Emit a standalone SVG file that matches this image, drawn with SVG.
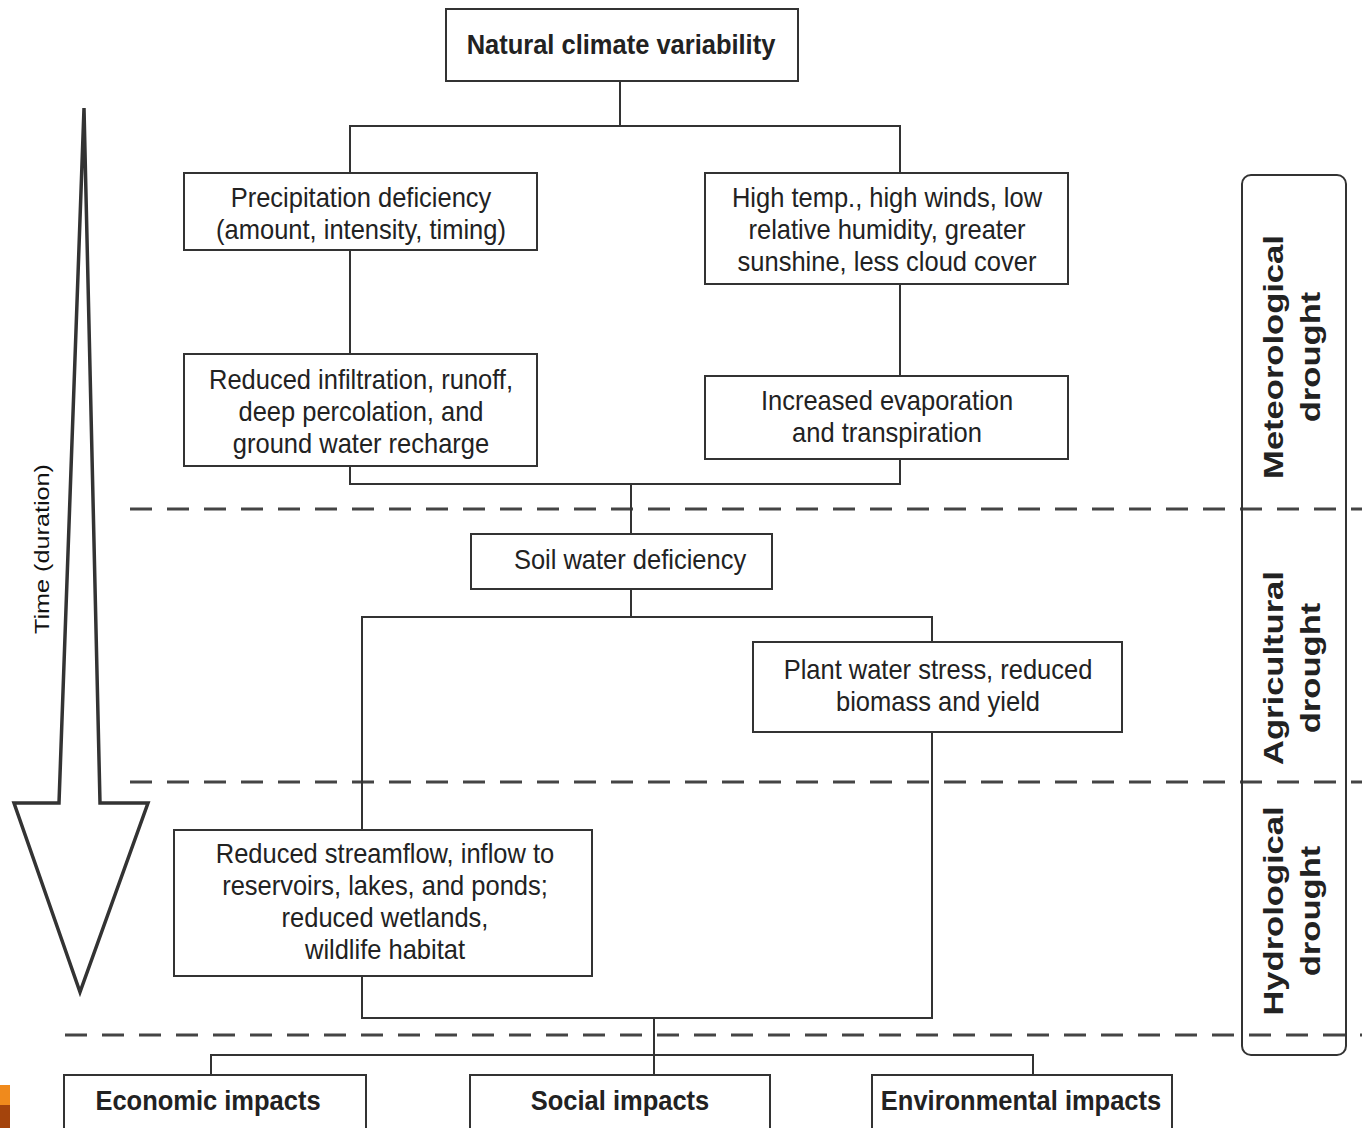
<svg xmlns="http://www.w3.org/2000/svg" width="1362" height="1128" viewBox="0 0 1362 1128">
<style>
.box{fill:#fff;stroke:#333;stroke-width:2}
.t{font-family:"Liberation Sans",Arial,sans-serif;font-size:25.5px;fill:#222;text-anchor:middle}
.b{font-weight:bold}
.v{font-family:"Liberation Sans",Arial,sans-serif;font-size:27px;font-weight:bold;fill:#222;text-anchor:middle}
.conn{stroke:#333;stroke-width:2;fill:none}
.dash{stroke:#444;stroke-width:3;fill:none;stroke-dasharray:22 15}
</style>
<rect width="1362" height="1128" fill="#fff"/>
<g id="bands">
<line class="dash" x1="130" y1="509" x2="1362" y2="509"/>
<line class="dash" x1="130" y1="782" x2="1362" y2="782"/>
<line class="dash" x1="65" y1="1035" x2="1362" y2="1035"/>
<rect x="1242" y="175" width="104" height="880" rx="9" fill="none" stroke="#333" stroke-width="2"/>
<text class="v" transform="matrix(0,-1.28,1,0,1283,357)">Meteorological</text>
<text class="v" transform="matrix(0,-1.28,1,0,1320,357)">drought</text>
<text class="v" transform="matrix(0,-1.28,1,0,1283,668)">Agricultural</text>
<text class="v" transform="matrix(0,-1.28,1,0,1320,668)">drought</text>
<text class="v" transform="matrix(0,-1.28,1,0,1283,911)">Hydrological</text>
<text class="v" transform="matrix(0,-1.28,1,0,1320,911)">drought</text>
</g>
<g id="time-arrow">
<polygon points="84,108 100,803 148,803 80,992 14,803 59,803" fill="#fff" stroke="#333" stroke-width="3.5" stroke-linejoin="miter"/>
<text class="t" style="font-size:21px;fill:#111" transform="matrix(0,-1.2,1,0,49,549)">Time (duration)</text>
</g>
<g id="connectors">
<polyline class="conn" points="620,81 620,126"/>
<polyline class="conn" points="350,173 350,126 900,126 900,173"/>
<polyline class="conn" points="350,250 350,354"/>
<polyline class="conn" points="900,284 900,376"/>
<polyline class="conn" points="350,466 350,484 900,484 900,459"/>
<polyline class="conn" points="631,484 631,534"/>
<polyline class="conn" points="631,589 631,617"/>
<polyline class="conn" points="362,830 362,617 932,617 932,642"/>
<polyline class="conn" points="932,732 932,1018 362,1018 362,976"/>
<polyline class="conn" points="654,1018 654,1075"/>
<polyline class="conn" points="211,1075 211,1055 1033,1055 1033,1075"/>
</g>
<g id="n-natural">
<rect class="box" x="446" y="9" width="352" height="72"/>
<text class="t b" transform="translate(621,54) scale(1,1.08)">Natural climate variability</text>
</g>
<g id="n-precip">
<rect class="box" x="184" y="173" width="353" height="77"/>
<text class="t" transform="translate(361,207) scale(1,1.08)"><tspan x="0">Precipitation deficiency</tspan><tspan x="0" dy="29.6">(amount, intensity, timing)</tspan></text>
</g>
<g id="n-hightemp">
<rect class="box" x="705" y="173" width="363" height="111"/>
<text class="t" transform="translate(887,207) scale(1,1.08)"><tspan x="0">High temp., high winds, low</tspan><tspan x="0" dy="29.6">relative humidity, greater</tspan><tspan x="0" dy="29.6">sunshine, less cloud cover</tspan></text>
</g>
<g id="n-infiltration">
<rect class="box" x="184" y="354" width="353" height="112"/>
<text class="t" transform="translate(361,389) scale(1,1.08)"><tspan x="0">Reduced infiltration, runoff,</tspan><tspan x="0" dy="29.6">deep percolation, and</tspan><tspan x="0" dy="29.6">ground water recharge</tspan></text>
</g>
<g id="n-evaporation">
<rect class="box" x="705" y="376" width="363" height="83"/>
<text class="t" transform="translate(887,410) scale(1,1.08)"><tspan x="0">Increased evaporation</tspan><tspan x="0" dy="29.6">and transpiration</tspan></text>
</g>
<g id="n-soil">
<rect class="box" x="471" y="534" width="301" height="55"/>
<text class="t" transform="translate(630,569) scale(1,1.08)">Soil water deficiency</text>
</g>
<g id="n-plant">
<rect class="box" x="753" y="642" width="369" height="90"/>
<text class="t" transform="translate(938,679) scale(1,1.08)"><tspan x="0">Plant water stress, reduced</tspan><tspan x="0" dy="29.6">biomass and yield</tspan></text>
</g>
<g id="n-streamflow">
<rect class="box" x="174" y="830" width="418" height="146"/>
<text class="t" transform="translate(385,863) scale(1,1.08)"><tspan x="0">Reduced streamflow, inflow to</tspan><tspan x="0" dy="29.6">reservoirs, lakes, and ponds;</tspan><tspan x="0" dy="29.6">reduced wetlands,</tspan><tspan x="0" dy="29.6">wildlife habitat</tspan></text>
</g>
<g id="n-economic">
<rect class="box" x="64" y="1075" width="302" height="62"/>
<text class="t b" transform="translate(208,1110) scale(1,1.08)">Economic impacts</text>
</g>
<g id="n-social">
<rect class="box" x="470" y="1075" width="300" height="62"/>
<text class="t b" transform="translate(620,1110) scale(1,1.08)">Social impacts</text>
</g>
<g id="n-environmental">
<rect class="box" x="872" y="1075" width="300" height="62"/>
<text class="t b" transform="translate(1021,1110) scale(1,1.08)">Environmental impacts</text>
</g>
<g id="corner-mark">
<rect x="0" y="1085" width="10" height="20" fill="#f08a1c"/>
<rect x="0" y="1105" width="10" height="23" fill="#a4440c"/>
</g>
</svg>
